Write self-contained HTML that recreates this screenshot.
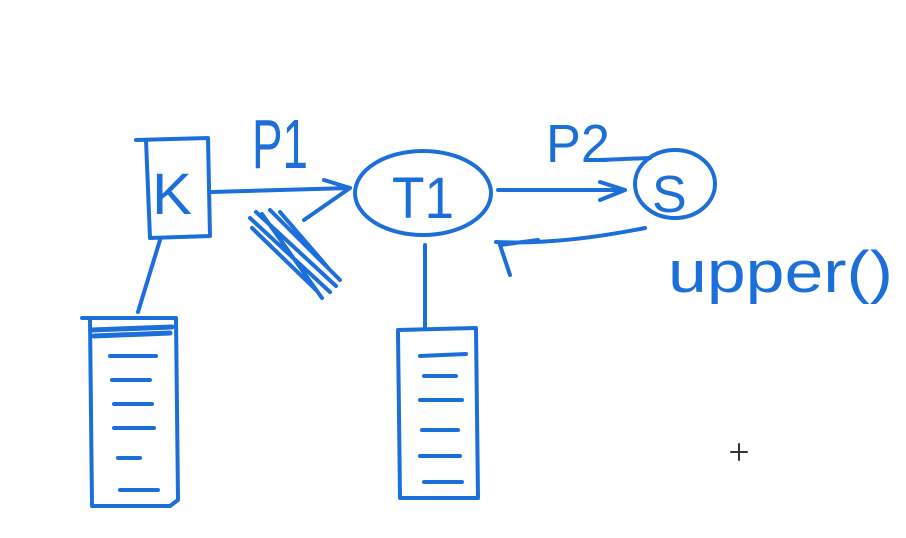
<!DOCTYPE html>
<html><head><meta charset="utf-8"><style>
html,body{margin:0;padding:0;background:#fff;}
svg{display:block}
text{font-family:"Liberation Sans",sans-serif;fill:#1c6fd8;}
</style></head><body>
<svg width="906" height="538" viewBox="0 0 906 538" xmlns="http://www.w3.org/2000/svg">
<g fill="none" stroke="#1c6fd8" stroke-width="4" stroke-linecap="round" stroke-linejoin="round">
<path d="M136,140 L208,138 L210,236 L150,238 L146,140"/>
<line x1="160" y1="240" x2="138" y2="312"/>
<path d="M82,318 L176,318 L178,500 L170,506 L92,506 L90,320"/>
<path d="M92,330 L172,327 M94,336 L170,333" stroke-width="5"/>
<path d="M110,356 L156,356 M112,380 L150,380 M114,404 L152,404 M114,428 L154,428 M118,458 L140,458 M120,490 L158,490"/>
<path d="M212,192 L350,188 M324,180 L350,188 L304,220"/>
<path d="M250,218 L330,292 M256,212 L336,286 M262,214 L322,298 M270,210 L340,280 M252,228 L316,290 M280,212 L330,270"/>
<ellipse cx="423" cy="193" rx="68" ry="42"/>
<line x1="425" y1="245" x2="425" y2="328"/>
<path d="M398,330 L476,328 L478,498 L400,498 L398,332"/>
<path d="M420,356 L466,354 M424,376 L456,376 M420,400 L462,400 M422,430 L458,430 M420,456 L460,456 M424,482 L462,482"/>
<path d="M498,190 L625,190 M600,182 L625,190 L600,200"/>
<ellipse cx="675" cy="184" rx="40" ry="34"/>
<path d="M600,160 L650,158"/>
<path d="M645,228 Q560,245 496,242 M510,275 L500,245 L538,240"/>
<path d="M739,444 L739,460 M731,452 L747,452" stroke="#333" stroke-width="2"/>
</g>
<text x="152" y="214" font-size="58" textLength="40" lengthAdjust="spacingAndGlyphs">K</text>
<text x="252" y="168" font-size="70" textLength="56" lengthAdjust="spacingAndGlyphs">P1</text>
<text x="392" y="218" font-size="58" textLength="62" lengthAdjust="spacingAndGlyphs">T1</text>
<text x="546" y="162" font-size="54" textLength="64" lengthAdjust="spacingAndGlyphs">P2</text>
<text x="652" y="212" font-size="52">S</text>
<text x="668" y="292" font-size="58" textLength="225" lengthAdjust="spacingAndGlyphs">upper()</text>
</svg>
</body></html>
